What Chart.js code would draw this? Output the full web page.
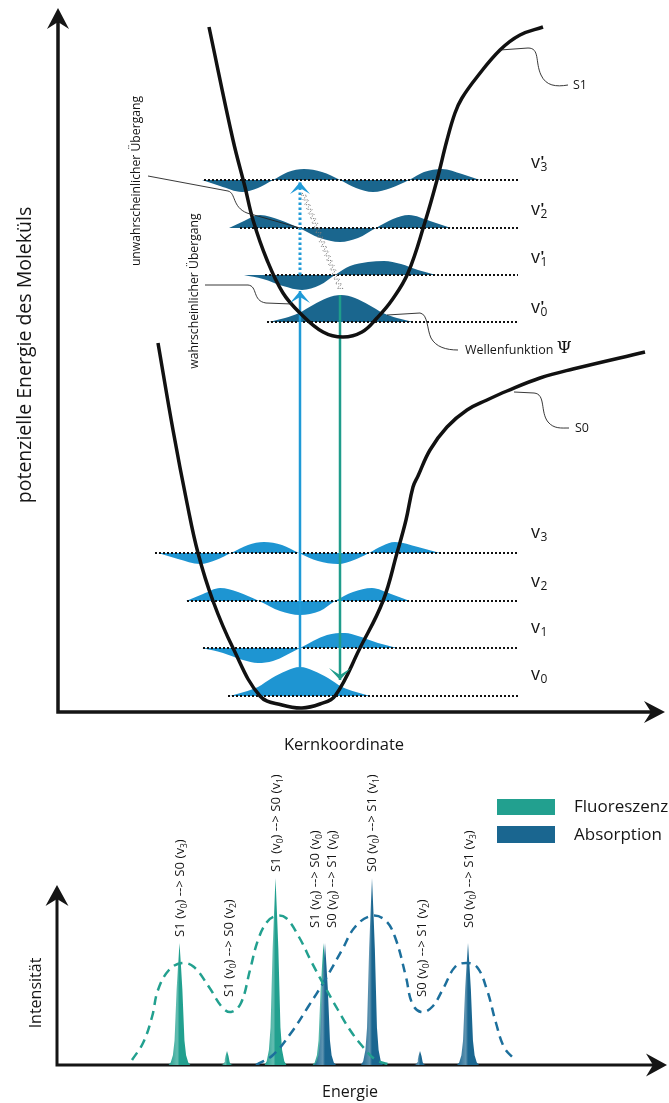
<!DOCTYPE html>
<html><head><meta charset="utf-8">
<script src="https://cdn.jsdelivr.net/npm/chart.js@4"></script>
<style>
html,body{margin:0;padding:0;background:#fff;}
#wrap{position:relative;width:669px;height:1103px;overflow:hidden;background:#fff;}
canvas{position:absolute;left:0;}
#c1{top:0;}
#c2{top:750px;}
</style></head><body>
<div id="wrap">
<canvas id="c1" width="669" height="760"></canvas>
<canvas id="c2" width="669" height="353"></canvas>
</div>
<script>
// ================= DATA : potential energy diagram =================
// x = Kernkoordinate (arb. units), y = potential energy (arb. units)
const s1CurveX = [151,175,187,195,209,225,242,265,285,304,319,334,350,367,379,389,397,404,419,442,462,485];
const s1CurveY = [685,572,525,492,452,419,399,380,375,380,394,412,439,490,532,572,599,614,635,662,677,685];
const s0CurveX = [100,115,129,140,155,175,202,224,244,262,277,302,325,339,348,355,360,372,389,409,429,449,482,515,587];
const s0CurveY = [369,282,209,159,111,64,16,7,4,8,16,64,111,159,192,225,236,262,285,302,312,321,334,343,360];

const s0LevelNames = ['v_0','v_1','v_2','v_3'];
const s1LevelNames = ["v'_0","v'_1","v'_2","v'_3"];
const s0Levels = [16,64,111,159];
const s1Levels = [390,437,484,532];
const s0LevelStart = [170,145,129,97];
const s1LevelStart = [209,207,182,146];
const levelEnd = 460;

// wave functions: positions and amplitudes relative to their level
const s0WaveX = [
  [172,186,200,214,228,242,256,270,284,298,312],
  [144,165,185,200,215,242,269,287,300,320,339],
  [128,145,162,180,201,222,242,262,277,295,314,333,352],
  [100,120,142,158,173,190,206,224,241,260,280,296,311,324,337,360,382]
];
const s0WaveY = [
  [0,4,9,18,25,29,25,18,9,4,0],
  [0,-5,-12,-15,-13,0,13,15,12,5,0],
  [0,7,13,9,0,-10,-14,-10,0,9,13,7,0],
  [0,-6,-11,-7,0,8,11,8,0,-8,-11,-7,0,7,11,6,0]
];
const s1WaveX = [
  [211,227,241,255,269,283,297,311,325,339,355],
  [186,205,225,244,262,277,292,310,326,343,360,378],
  [171,186,202,222,241,262,282,300,318,335,351,372,393],
  [144,162,184,200,215,230,246,264,282,298,315,333,351,366,384,404,422]
];
const s1WaveY = [
  [0,4,9,17,24,27,24,17,9,4,0],
  [0,-4,-11,-15,-10,0,9,13,14,11,5,0],
  [0,7,13,8,0,-10,-14,-10,0,9,13,7,0],
  [0,-6,-12,-8,0,8,11,8,0,-8,-12,-8,0,8,11,6,0]
];

// transitions: absorption (solid), unlikely absorption (dotted), fluorescence
const arrowNames = ['Absorption','unwahrscheinlich','Fluoreszenz'];
const arrowX    = [242, 242, 282];
const arrowFrom = [45, 437, 417];
const arrowTo   = [421, 530, 32];
const relaxFrom = [245, 519];
const relaxTo   = [283, 422];

// ================= DATA : spectrum =================
const seriesNames = ['Fluoreszenz','Absorption'];
const fluoEnergy = [122.5, 170, 218.5, 266.5];
const fluoIntens = [122, 14, 187, 122];
const fluoWidth  = [11, 6, 11, 11];
const absEnergy  = [268, 315, 363, 411];
const absIntens  = [122, 187, 14, 122];
const absWidth   = [11, 11, 6, 11];
// line profile (relative offset, relative intensity)
const profileDx = [-1,-0.8,-0.6,-0.45,-0.36,-0.26,-0.13,0,0.13,0.26,0.36,0.45,0.6,0.8,1];
const profileFr = [0,0.02,0.08,0.2,0.4,0.62,0.82,1,0.82,0.62,0.4,0.2,0.08,0.02,0];

const fluoEnvX = [75,86,95,101,112,125,137,152,165,174,184,193,201,210,219,229,242,255,268,281,293,306,319,334];
const fluoEnvY = [5,22,48,75,95,102,98,78,58,53,62,95,125,143,149,147,128,102,78,55,35,18,5,0];
const absEnvX  = [199,216,234,251,268,285,298,314,328,338,349,355,364,375,387,398,409,420,430,439,447,458];
const absEnvY  = [0,10,32,58,85,115,138,149,145,128,88,62,53,58,78,98,102,98,75,42,18,5];

const peakLabels = [
  'S1 (v_0) --> S0 (v_3)','S1 (v_0) --> S0 (v_2)','S1 (v_0) --> S0 (v_1)','S1 (v_0) --> S0 (v_0)',
  'S0 (v_0) --> S1 (v_0)','S0 (v_0) --> S1 (v_1)','S0 (v_0) --> S1 (v_2)','S0 (v_0) --> S1 (v_3)'
];
const peakLabelX = [122.5, 171.5, 218.5, 257, 274, 314, 364, 411];
const peakLabelY = [128, 68, 193, 137, 137, 193, 68, 137];

// ================= STYLE =================
const FONT = '"Open Sans", "Noto Sans", "DejaVu Sans", sans-serif';
const INK = '#151515';
const S0WAVE = '#1e95d2';
const S1WAVE = '#1a668e';
const ABS_ARROW = '#1f9ad7';
const FLU_ARROW = '#1f9c8b';
const TEAL = '#22a08f';
const DARK = '#1a6690';
const DARK_DASH = '#1c6f9c';

function P(chart, x, y){ return [chart.scales.x.getPixelForValue(x), chart.scales.y.getPixelForValue(y)]; }
function arrowHead(ctx, tip, from, len, hw, notch, color){
  const dx = tip[0]-from[0], dy = tip[1]-from[1]; const L = Math.hypot(dx,dy)||1;
  const ux=dx/L, uy=dy/L, nx=-uy, ny=ux;
  ctx.beginPath();
  ctx.moveTo(tip[0], tip[1]);
  ctx.lineTo(tip[0]-ux*len+nx*hw, tip[1]-uy*len+ny*hw);
  ctx.lineTo(tip[0]-ux*notch, tip[1]-uy*notch);
  ctx.lineTo(tip[0]-ux*len-nx*hw, tip[1]-uy*len-ny*hw);
  ctx.closePath(); ctx.fillStyle=color; ctx.fill();
}
function leader(chart, cmds){
  const ctx = chart.ctx; ctx.beginPath();
  cmds.forEach(c=>{
    if(c[0]==='M'){ const p=P(chart,c[1],c[2]); ctx.moveTo(p[0],p[1]); }
    else if(c[0]==='L'){ const p=P(chart,c[1],c[2]); ctx.lineTo(p[0],p[1]); }
    else { const a=P(chart,c[1],c[2]), b=P(chart,c[3],c[4]), e=P(chart,c[5],c[6]); ctx.bezierCurveTo(a[0],a[1],b[0],b[1],e[0],e[1]); }
  });
  ctx.strokeStyle='#222'; ctx.lineWidth=0.9; ctx.stroke();
}
function rich(ctx, str, size, subSize, subDy){
  let x = 0;
  str.split(/(_\w)/).forEach(p=>{
    if(!p) return;
    if(p[0]==='_'){ ctx.font = subSize+'px '+FONT; ctx.fillText(p[1], x, subDy); x += ctx.measureText(p[1]).width; }
    else { ctx.font = size+'px '+FONT; ctx.fillText(p, x, 0); x += ctx.measureText(p).width; }
  });
  return x;
}
function label(ctx, s, x, y, font, align, rot){
  ctx.save(); ctx.translate(x,y); if(rot) ctx.rotate(rot);
  ctx.font = font; ctx.textAlign = align||'left'; ctx.textBaseline='middle'; ctx.fillStyle=INK;
  ctx.fillText(s,0,0); ctx.restore();
}
function levelLabel(chart, name, x, y){
  const ctx = chart.ctx; const p = P(chart,x,y);
  ctx.save(); ctx.fillStyle=INK; ctx.textAlign='left'; ctx.textBaseline='alphabetic';
  ctx.font = '18px '+FONT; ctx.fillText('v', p[0], p[1]);
  const w = ctx.measureText('v').width;
  const prime = name.indexOf("'")>=0;
  const sub = name.split('_')[1];
  if(prime){ ctx.font = 'bold 14px '+FONT; ctx.fillText("'", p[0]+w+0.5, p[1]-2); }
  ctx.font = '12px '+FONT; ctx.fillText(sub, p[0]+w+0.5, p[1]+3);
  ctx.restore();
}

// ================= TOP CHART =================
const topDatasets = [];
function wave(xs, ys, level, color){
  return { data: xs.map((x,i)=>({x:x, y:level+ys[i]})), fill:{value:level}, backgroundColor:color,
    borderWidth:0, borderColor:'rgba(0,0,0,0)', pointRadius:0, cubicInterpolationMode:'monotone', order:5 };
}
s0Levels.forEach((lv,i)=>topDatasets.push(wave(s0WaveX[i], s0WaveY[i], lv, S0WAVE)));
s1Levels.forEach((lv,i)=>topDatasets.push(wave(s1WaveX[i], s1WaveY[i], lv, S1WAVE)));
function levelLine(x0, lv){
  return { data:[{x:x0,y:lv},{x:levelEnd,y:lv}], borderColor:'#111', borderWidth:2, borderDash:[2,2],
    pointRadius:0, fill:false, order:4 };
}
s0Levels.forEach((lv,i)=>topDatasets.push(levelLine(s0LevelStart[i], lv)));
s1Levels.forEach((lv,i)=>topDatasets.push(levelLine(s1LevelStart[i], lv)));
topDatasets.push({ label:'S1', data:s1CurveX.map((x,i)=>({x:x,y:s1CurveY[i]})), borderColor:'#111', borderWidth:3.5,
  tension:0.4, pointRadius:0, fill:false, order:1, capBezierPoints:false });
topDatasets.push({ label:'S0', data:s0CurveX.map((x,i)=>({x:x,y:s0CurveY[i]})), borderColor:'#111', borderWidth:3.5,
  tension:0.4, pointRadius:0, fill:false, order:1, capBezierPoints:false });
const arrowColors = [ABS_ARROW, ABS_ARROW, FLU_ARROW];
const arrowDash = [[], [2.5,2.5], []];
arrowX.forEach((x,i)=>topDatasets.push({ label:arrowNames[i], data:[{x:x,y:arrowFrom[i]},{x:x,y:arrowTo[i]}],
  borderColor:arrowColors[i], borderWidth: i===1?3:2.5, borderDash:arrowDash[i], pointRadius:0, fill:false, order:2 }));

const topDecor = {
  id:'topDecor',
  beforeDatasetsDraw(chart){
    const ctx = chart.ctx;
    const o = P(chart,0,0), ty = P(chart,0,704), tx = P(chart,607,0);
    ctx.save();
    ctx.strokeStyle=INK; ctx.lineWidth=3.5; ctx.lineJoin='miter';
    ctx.beginPath(); ctx.moveTo(o[0], ty[1]+14); ctx.lineTo(o[0], o[1]); ctx.lineTo(tx[0]-14, o[1]); ctx.stroke();
    arrowHead(ctx, ty, [o[0], o[1]], 21, 11, 14, INK);
    arrowHead(ctx, tx, [o[0], o[1]], 21, 11, 14, INK);
    label(ctx, 'potenzielle Energie des Moleküls', 25, 355, '19.5px '+FONT, 'center', -Math.PI/2);
    label(ctx, 'Kernkoordinate', 344, 745, '16.5px '+FONT, 'center', 0);
    ctx.restore();
  },
  afterDatasetsDraw(chart){
    const ctx = chart.ctx;
    ctx.save();
    // arrow heads
    arrowX.forEach((x,i)=>{
      const tip = P(chart,x,arrowTo[i]), from = P(chart,x,arrowFrom[i]);
      if(i===2) arrowHead(ctx, tip, from, 12, 11, 5, arrowColors[i]);
      else arrowHead(ctx, tip, from, 12, 10, 6, arrowColors[i]);
    });
    // wavy relaxation line
    const a = P(chart, relaxFrom[0], relaxFrom[1]), b = P(chart, relaxTo[0], relaxTo[1]);
    const dx=b[0]-a[0], dy=b[1]-a[1], L=Math.hypot(dx,dy), ux=dx/L, uy=dy/L;
    ctx.beginPath();
    for(let t=0;t<=L;t+=0.5){ const s = 2.6*Math.sin(t/5*2*Math.PI); const px=a[0]+ux*t-uy*s, py=a[1]+uy*t+ux*s; if(t===0) ctx.moveTo(px,py); else ctx.lineTo(px,py); }
    ctx.strokeStyle='#7d7d7d'; ctx.lineWidth=1; ctx.setLineDash([1.3,1]); ctx.stroke(); ctx.setLineDash([]);
    // leader lines
    leader(chart, [['M',90,536],['L',170,521],['C',178,519,174,505,189,499],['L',242,484]]);
    leader(chart, [['M',147,427],['L',190,427],['C',200,426,194,411,208,409],['L',234,408]]);
    leader(chart, [['M',442,662],['L',470,664],['C',482,664,477,650,483,637],['C',488,626,498,625,510,627]]);
    leader(chart, [['M',456,320],['L',476,319],['C',488,318,482,300,490,290],['C',496,283,503,284,511,284]]);
    leader(chart, [['M',329,397],['L',362,399],['C',370,398,369,382,373,374],['C',378,365,388,362,400,362]]);
    // annotation texts
    let p = P(chart,79,531); label(ctx,'unwahrscheinlicher Übergang',p[0],p[1],'12.2px '+FONT,'center',-Math.PI/2);
    p = P(chart,137,421); label(ctx,'wahrscheinlicher Übergang',p[0],p[1],'12.2px '+FONT,'center',-Math.PI/2);
    p = P(chart,515,627); label(ctx,'S1',p[0],p[1],'12.5px '+FONT,'left',0);
    p = P(chart,517,284); label(ctx,'S0',p[0],p[1],'12.5px '+FONT,'left',0);
    p = P(chart,407,362); label(ctx,'Wellenfunktion',p[0],p[1],'12.5px '+FONT,'left',0);
    ctx.font='12.5px '+FONT; const ww = ctx.measureText('Wellenfunktion ').width;
    label(ctx,'Ψ',p[0]+ww,p[1]-1,'17px "DejaVu Serif", serif','left',0);
    // level labels
    s0LevelNames.forEach((n,i)=>levelLabel(chart, n, 473, [32,79,125,174][i]));
    s1LevelNames.forEach((n,i)=>levelLabel(chart, n, 473, [399,449,497,544][i]));
    ctx.restore();
  }
};

new Chart(document.getElementById('c1'), {
  type:'line',
  data:{ datasets: topDatasets },
  options:{
    responsive:false, animation:false, events:[],
    layout:{ padding:{ left:58, right:11, top:12, bottom:48 } },
    scales:{ x:{ type:'linear', min:0, max:600, display:false }, y:{ type:'linear', min:0, max:700, display:false } },
    plugins:{ legend:{display:false}, tooltip:{enabled:false} },
    elements:{ line:{ borderCapStyle:'butt' } }
  },
  plugins:[topDecor]
});

// ================= BOTTOM CHART =================
function lighten(hex, f){
  const n = parseInt(hex.slice(1),16); const r=n>>16, g=(n>>8)&255, b=n&255;
  return 'rgb('+Math.round(r+(255-r)*f)+','+Math.round(g+(255-g)*f)+','+Math.round(b+(255-b)*f)+')';
}
function peak(center, height, width, color){
  return { data: profileDx.map((d,i)=>({x:center+d*width, y:height*profileFr[i]})), fill:'origin',
    backgroundColor:(c)=>{
      const ch=c.chart; if(!ch.chartArea) return color;
      const l=ch.scales.x.getPixelForValue(center-width), r=ch.scales.x.getPixelForValue(center+width);
      const g=ch.ctx.createLinearGradient(l,0,r,0);
      g.addColorStop(0,color); g.addColorStop(0.4,lighten(color,0.3)); g.addColorStop(0.5,color); g.addColorStop(1,color);
      return g;
    },
    borderWidth:0, borderColor:'rgba(0,0,0,0)', pointRadius:0, tension:0, order:3 };
}
const botDatasets = [];
fluoEnergy.forEach((e,i)=>botDatasets.push(Object.assign(peak(e, fluoIntens[i], fluoWidth[i], TEAL),{order:3})));
absEnergy.forEach((e,i)=>botDatasets.push(Object.assign(peak(e, absIntens[i], absWidth[i], DARK),{order:2})));
botDatasets.push({ label:seriesNames[0], data:fluoEnvX.map((x,i)=>({x:x,y:fluoEnvY[i]})), borderColor:TEAL, borderWidth:2.5,
  borderDash:[9,6], tension:0.4, pointRadius:0, fill:false, order:1 });
botDatasets.push({ label:seriesNames[1], data:absEnvX.map((x,i)=>({x:x,y:absEnvY[i]})), borderColor:DARK_DASH, borderWidth:2.5,
  borderDash:[9,6], tension:0.4, pointRadius:0, fill:false, order:1 });

const botDecor = {
  id:'botDecor',
  beforeDatasetsDraw(chart){
    const ctx = chart.ctx;
    const o = P(chart,0,0), ty = P(chart,0,180), tx = P(chart,610,0);
    ctx.save();
    ctx.strokeStyle=INK; ctx.lineWidth=3;
    ctx.beginPath(); ctx.moveTo(o[0], ty[1]+14); ctx.lineTo(o[0], o[1]); ctx.lineTo(tx[0]-14, o[1]); ctx.stroke();
    arrowHead(ctx, ty, [o[0],o[1]], 21, 11.5, 14, INK);
    arrowHead(ctx, tx, [o[0],o[1]], 21, 11.5, 14, INK);
    let p = P(chart,-21,72); label(ctx,'Intensität',p[0],p[1],'16px '+FONT,'center',-Math.PI/2);
    p = P(chart,293,-27); label(ctx,'Energie',p[0],p[1],'16px '+FONT,'center',0);
    // legend
    const cols=[TEAL,DARK];
    [[266,250,258],[239,222,230]].forEach((r,i)=>{
      const a=P(chart,440,r[0]), b=P(chart,498,r[1]);
      ctx.fillStyle=cols[i]; ctx.fillRect(a[0],a[1],b[0]-a[0],b[1]-a[1]);
      const t=P(chart,517,r[2]); label(ctx, seriesNames[i], t[0], t[1], '17px '+FONT, 'left', 0);
    });
    ctx.restore();
  },
  afterDatasetsDraw(chart){
    const ctx = chart.ctx;
    ctx.save(); ctx.fillStyle=INK; ctx.textBaseline='alphabetic'; ctx.textAlign='left';
    peakLabels.forEach((s,i)=>{
      const p = P(chart, peakLabelX[i], peakLabelY[i]);
      ctx.save(); ctx.translate(p[0]+4.5, p[1]); ctx.rotate(-Math.PI/2);
      rich(ctx, s, 13.2, 8.5, 3);
      ctx.restore();
    });
    ctx.restore();
  }
};

new Chart(document.getElementById('c2'), {
  type:'line',
  data:{ datasets: botDatasets },
  options:{
    responsive:false, animation:false, events:[],
    layout:{ padding:{ left:57, right:12, top:115, bottom:38 } },
    scales:{ x:{ type:'linear', min:0, max:600, display:false }, y:{ type:'linear', min:0, max:200, display:false } },
    plugins:{ legend:{display:false}, tooltip:{enabled:false} }
  },
  plugins:[botDecor]
});
</script>
</body></html>
